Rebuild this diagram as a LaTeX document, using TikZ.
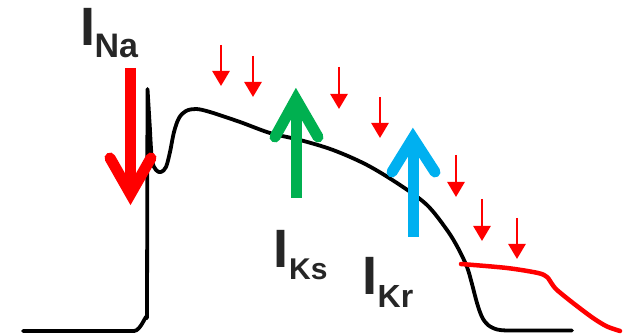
\documentclass[tikz,border=0pt]{standalone}
\usepackage{fontspec}
\setmainfont{Liberation Sans}
\usetikzlibrary{arrows.meta}
\definecolor{inkgrey}{HTML}{262626}
\definecolor{ksgreen}{HTML}{00B050}
\definecolor{krblue}{HTML}{00B0F0}
\definecolor{nared}{HTML}{FF0000}
\tikzset{
  trace/.style={line width=3.8pt, black, line join=round, line cap=round},
  shortened/.style={line width=4.5pt, nared, line join=round, line cap=round},
  shaft/.style={line width=11pt, line cap=butt},
  chevron/.style={line width=11pt, line cap=round, line join=miter},
  blocker/.style={line width=2.7pt, nared, -{Triangle[length=15pt,width=17pt]}},
  bigI/.style={anchor=base west, inner sep=0pt, text=inkgrey, font=\fontsize{54}{54}\selectfont\bfseries},
  subscr/.style={anchor=base west, inner sep=0pt, text=inkgrey, font=\bfseries}
}
\begin{document}
\begin{tikzpicture}[x=1pt, y=-1pt]
  \useasboundingbox (0,0) rectangle (633,336);

  % action potential
  \draw[trace] (23,331) -- (134,331) to[out=0,in=90] (147,318) -- (147.5,89) -- (150,130)
    plot[smooth, tension=0.55] coordinates {(150,130) (152,160) (156,170) (161,172) (166,167)
      (170,152) (174,132) (179,118) (186,111) (196,109) (210,112) (240,122) (270,133)
      (300,140) (333,150) (367,165) (400,185) (427,205) (447,230) (458,248) (467,267)
      (472,284) (477,303) (482,317) (488,325) (497,329.5) (507,330.5) (520,330.5)}
    -- (572,330.5);

  % shortened repolarisation
  \draw[shortened] (461,264)
    plot[smooth, tension=0.5] coordinates {(461,264) (507,268) (538,273) (547,277)
      (552,284) (557,290) (573,303) (593,318) (607,326.5) (620,331)};

  % sodium current (inward)
  \draw[shaft, nared] (130.5,68) -- (130.5,194);
  \draw[chevron, nared] (110,158) -- (130.5,194) -- (151,158);

  % slow delayed rectifier (outward)
  \draw[shaft, ksgreen] (296,198) -- (296,99);
  \draw[chevron, ksgreen] (275,137) -- (296,99) -- (318,137);

  % rapid delayed rectifier (outward)
  \draw[shaft, krblue] (413,237) -- (413,138);
  \draw[chevron, krblue] (392,172) -- (413,138) -- (435,172);

  % small inhibitory arrows
  \draw[blocker] (221,45) -- (221,86);
  \draw[blocker] (253,56) -- (253,97);
  \draw[blocker] (339,67) -- (339,109);
  \draw[blocker] (380,97) -- (380,138);
  \draw[blocker] (456,155) -- (456,197);
  \draw[blocker] (482,199) -- (482,241);
  \draw[blocker] (517,218) -- (517,259);

  % current labels
  \node[bigI] (iNa) at (80.5,46) {I};
  \node[subscr, font=\fontsize{34}{34}\selectfont\bfseries] (subNa) at (94.5,57.5) {Na};
  \node[bigI] (iKs) at (273.5,268) {I};
  \node[subscr, font=\fontsize{30}{30}\selectfont\bfseries] (subKs) at (289,279.5) {Ks};
  \node[bigI] (iKr) at (362.5,295) {I};
  \node[subscr, font=\fontsize{32}{32}\selectfont\bfseries] (subKr) at (377.5,307.5) {Kr};
\end{tikzpicture}
\end{document}
